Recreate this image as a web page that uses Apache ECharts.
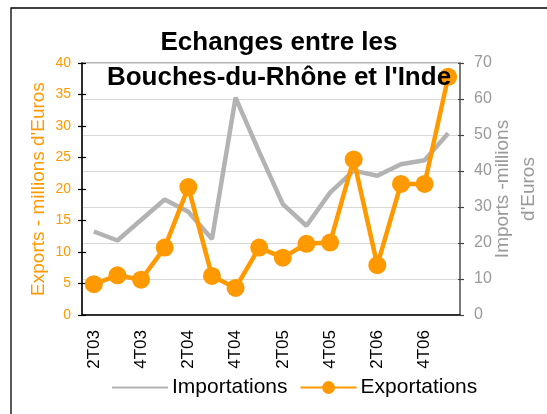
<!DOCTYPE html>
<html>
<head>
<meta charset="utf-8">
<script src="https://cdn.jsdelivr.net/npm/echarts@6/dist/echarts.min.js"></script>
<style>
html,body{margin:0;padding:0;background:#fff;}
#chart{width:547px;height:414px;}
</style>
</head>
<body>
<div id="chart"></div>
<script>
const categories = ['2T03','3T03','4T03','1T04','2T04','3T04','4T04','1T05','2T05','3T05','4T05','1T06','2T06','3T06','4T06','1T07'];
const importations = [23.2, 20.7, 26.4, 32.1, 28.7, 21.1, 60.4, 45.3, 30.8, 24.8, 34.0, 40.1, 38.7, 41.9, 43.0, 50.5];
const exportations = [4.9, 6.3, 5.6, 10.7, 20.3, 6.2, 4.3, 10.7, 9.1, 11.3, 11.5, 24.7, 7.9, 20.8, 20.8, 37.8];
const titleText = 'Echanges entre les\nBouches-du-Rhône et l\'Inde';
const leftAxisName = 'Exports - millions d\'Euros';
const rightAxisName = 'Imports -millions\nd\'Euros';

const FONT = 'Liberation Sans, Arial, sans-serif';
const ORANGE = '#FF9900';
const GRAY = '#B3B3B3';
const AXGRAY = '#999999';

const chart = echarts.init(document.getElementById('chart'), null, {renderer: 'canvas'});
const grid = {left: 82, right: 87, top: 63, bottom: 99};

chart.setOption({
  animation: false,
  backgroundColor: '#ffffff',
  textStyle: {fontFamily: FONT},
  grid: Object.assign({show: true, borderColor: '#A0A0A0', borderWidth: 1.5, backgroundColor: 'transparent',
                       containLabel: false, outerBoundsMode: 'none'}, grid),
  graphic: [
    {type: 'rect', z: -10, silent: true,
     shape: {x: 11, y: 8, width: 700, height: 600},
     style: {fill: 'transparent', stroke: '#000', lineWidth: 1.3}},
    {type: 'text', z: 100, silent: true,
     style: {text: titleText, x: 279, y: 25, align: 'center', verticalAlign: 'top',
             fontFamily: FONT, fontWeight: 'bold', fontSize: 26, lineHeight: 35, fill: '#000'}}
  ],
  legend: {
    left: 106, top: 372,
    itemWidth: 56, itemHeight: 16, itemGap: 12,
    textStyle: {fontFamily: FONT, fontSize: 21, color: '#000', padding: [0,0,0,-1]},
    data: [
      {name: 'Importations', itemStyle: {opacity: 0}},
      {name: 'Exportations'}
    ]
  },
  xAxis: {
    type: 'category', data: categories, boundaryGap: true,
    axisLine: {lineStyle: {color: '#000', width: 1.5}},
    axisTick: {interval: 0, length: 7, lineStyle: {color: '#000', width: 1.2}},
    axisLabel: {interval: 1, rotate: 90, margin: 15, fontSize: 17, color: '#000', fontFamily: FONT},
    splitLine: {show: false}
  },
  yAxis: [
    {type: 'value', position: 'left', min: 0, max: 40, interval: 5,
     name: leftAxisName, nameLocation: 'middle', nameGap: 32, nameRotate: 90, nameMoveOverlap: false,
     nameTextStyle: {color: ORANGE, fontSize: 19, lineHeight: 23, fontFamily: FONT},
     axisLine: {show: true, lineStyle: {color: '#000', width: 1.5}},
     axisTick: {show: true, length: 4, lineStyle: {color: '#000', width: 1.2}},
     axisLabel: {color: ORANGE, fontSize: 14, margin: 11, fontFamily: FONT},
     splitLine: {show: false}},
    {type: 'value', position: 'right', min: 0, max: 70, interval: 10,
     name: rightAxisName, nameLocation: 'middle', nameGap: 30, nameRotate: 90, nameMoveOverlap: false,
     nameTextStyle: {color: AXGRAY, fontSize: 19, lineHeight: 26, fontFamily: FONT, align: 'center'},
     axisLine: {show: true, lineStyle: {color: '#666', width: 1.5}},
     axisTick: {show: true, length: 4, lineStyle: {color: '#444', width: 1.2}},
     axisLabel: {color: AXGRAY, fontSize: 16, margin: 14, fontFamily: FONT},
     splitLine: {show: true, lineStyle: {color: '#D9D9D9', width: 1}}},
    {type: 'value', position: 'left', min: 0, max: 40, interval: 5,
     axisLine: {show: false},
     axisTick: {show: true, inside: true, length: 4, lineStyle: {color: '#000', width: 1.2}},
     axisLabel: {show: false}, splitLine: {show: false}},
    {type: 'value', position: 'right', min: 0, max: 70, interval: 10,
     axisLine: {show: false},
     axisTick: {show: true, inside: true, length: 2, lineStyle: {color: '#444', width: 1.2}},
     axisLabel: {show: false}, splitLine: {show: false}}
  ],
  series: [
    {name: 'Importations', type: 'line', yAxisIndex: 1, data: importations,
     symbol: 'none', showSymbol: false,
     lineStyle: {color: GRAY, width: 4.5}, itemStyle: {color: GRAY}, z: 2},
    {name: 'Exportations', type: 'line', yAxisIndex: 0, data: exportations,
     symbol: 'circle', symbolSize: 18, showAllSymbol: true,
     lineStyle: {color: ORANGE, width: 4.5}, itemStyle: {color: ORANGE}, z: 3}
  ]
});
</script>
</body>
</html>
